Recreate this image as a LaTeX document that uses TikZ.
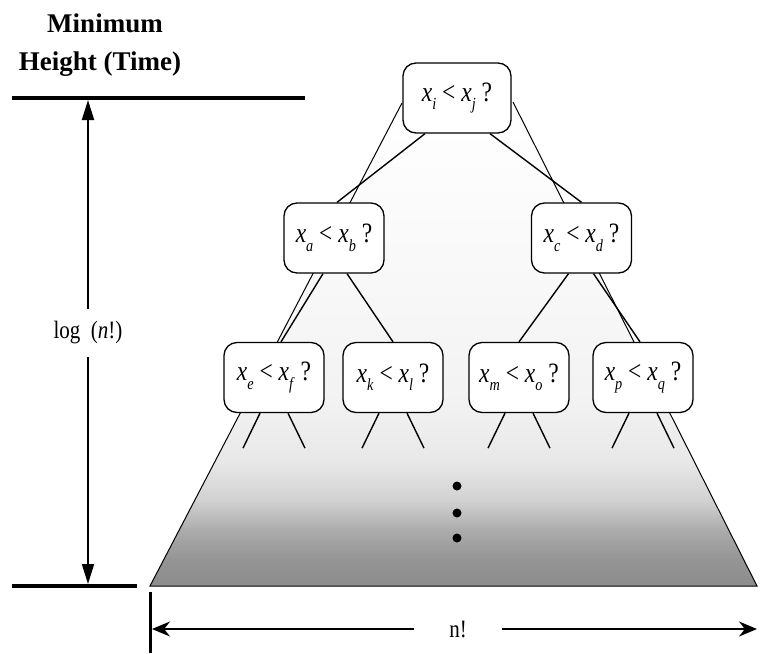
\documentclass[tikz,border=0pt]{standalone}
\usepackage{fontspec}
\usepackage{graphicx}
\setmainfont{Liberation Serif}
\usetikzlibrary{arrows.meta,calc}
\pgfdeclareverticalshading{stip}{100bp}{color(0bp)=(black!45); color(25bp)=(black!45); color(27.6bp)=(black!42); color(30.7bp)=(black!33); color(33.8bp)=(black!18); color(37.9bp)=(black!9); color(44.2bp)=(black!5); color(54.5bp)=(black!3); color(75bp)=(white); color(100bp)=(white)}
\newcommand{\xs}[1]{\textit{x}\raisebox{-0.3em}{\fontsize{17}{17}\selectfont\textit{#1}}}
\newcommand{\cmp}[1]{\scalebox{0.84}[1]{#1}}
\begin{document}
\begin{tikzpicture}[x=1pt,y=-1pt,
  box/.style={draw, line width=1.3pt, rounded corners=13pt, fill=white,
    minimum width=100pt, minimum height=70pt, inner sep=2pt,
    font=\fontsize{28}{32}\selectfont},
  edge/.style={line width=1.4pt},
  tri/.style={line width=1pt},
  thickrule/.style={line width=3.2pt},
  dot/.style={circle, fill=black, inner sep=0pt, minimum size=9pt},
  vtip/.style={line width=2pt, -{Triangle[length=20pt,width=12pt]}},
  htip/.style={line width=1.8pt, -{Stealth[length=18pt,width=15pt]}},
  lab/.style={font=\fontsize{25}{29}\selectfont},
  title/.style={anchor=base, font=\fontsize{27}{32}\selectfont\bfseries}
]
\useasboundingbox (0,0) rectangle (760,653);
% stippled triangle
\coordinate (tl) at (402,103);
\coordinate (tr) at (513,102);
\coordinate (bl) at (150,586);
\coordinate (br) at (757,586);
\shade[shading=stip] (tl) -- (bl) -- (br) -- (tr) -- cycle;
\draw[tri] (tl) -- (bl) -- (br) -- (tr);

% decision nodes
\node[box, minimum width=108pt] (T) at (457,98) {\cmp{\xs{i} < \xs{j} ?}};
\node[box] (A) at (334,238) {\cmp{\xs{a} < \xs{b} ?}};
\node[box] (C) at (581.5,238) {\cmp{\xs{c} < \xs{d} ?}};
\node[box] (E) at (274,377.5) {\cmp{\xs{e} < \xs{f} ?}};
\node[box] (K) at (393,377.5) {\cmp{\xs{k} < \xs{l} ?}};
\node[box] (M) at (519,377.5) {\cmp{\xs{m} < \xs{o} ?}};
\node[box] (P) at (643,377.5) {\cmp{\xs{p} < \xs{q} ?}};

% tree edges
\draw[edge] ([xshift=-32pt]T.south) -- ([xshift=3pt]A.north);
\draw[edge] ([xshift=33pt]T.south) -- (C.north);
\draw[edge] ([xshift=-11pt]A.south) -- ([xshift=7pt]E.north);
\draw[edge] ([xshift=13pt]A.south) -- (K.north);
\draw[edge] ([xshift=-13pt]C.south) -- (M.north);
\draw[edge] ([xshift=12pt]C.south) -- ([xshift=-3pt]P.north);
\foreach \n in {E,K,M,P} {
  \draw[edge] ([xshift=-14pt]\n.south) -- ++(-17,35);
  \draw[edge] ([xshift=14pt]\n.south) -- ++(17,35);
}

% dots
\node[dot] (d1) at (457,486) {};
\node[dot] (d2) at (457,513) {};
\node[dot] (d3) at (457,538) {};

% title
\node[title] (t1) at (105,32) {Minimum};
\node[title] (t2) at (100,70) {Height (Time)};

% height rules and arrow
\coordinate (r1a) at (12,98);
\coordinate (r1b) at (305,98);
\coordinate (r2a) at (12,586);
\coordinate (r2b) at (137,586);
\draw[thickrule] (r1a) -- (r1b);
\draw[thickrule] (r2a) -- (r2b);
\coordinate (ht) at (88,100);
\coordinate (hb) at (88,584);
\node[lab, inner ysep=12pt, inner xsep=0pt] (L) at (88,333) {\cmp{log\ \ (\textit{n}!)}};
\draw[vtip] (L) -- (ht);
\draw[vtip] (L) -- (hb);

% width arrow
\coordinate (vb1) at (150,592);
\coordinate (vb2) at (150,653);
\draw[line width=3pt] (vb1) -- (vb2);
\coordinate (nl) at (152,629);
\coordinate (nr) at (757,629);
\node[lab, inner xsep=35pt] (N) at (458,629) {\cmp{n!}};
\draw[htip] (N) -- (nl);
\draw[htip] (N) -- (nr);
\end{tikzpicture}
\end{document}
